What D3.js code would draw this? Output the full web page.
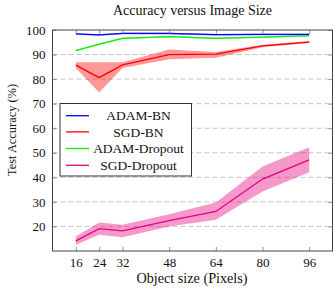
<!DOCTYPE html>
<html>
<head>
<meta charset="utf-8">
<script src="https://cdn.jsdelivr.net/npm/d3@7"></script>
<style>
  html, body { margin: 0; padding: 0; background: #fff; }
  text { font-family: "Liberation Serif", "DejaVu Serif", serif; fill: #111; }
</style>
</head>
<body>
<svg id="chart" width="333" height="292"></svg>
<script>
// ---- data ----
const sizes = [16, 24, 32, 48, 64, 80, 96];
const xTicks = [16, 24, 32, 48, 64, 80, 96];
const yTicks = [20, 30, 40, 50, 60, 70, 80, 90, 100];
const seriesNames = ["ADAM-BN", "SGD-BN", "ADAM-Dropout", "SGD-Dropout"];
const seriesColors = ["#0000ff", "#ff0000", "#00ee00", "#e6007e"];

const adamBN      = [98.4, 98.0, 98.6, 98.6, 98.1, 98.2, 98.2];
const adamBNLo    = [98.1, 97.7, 98.3, 98.2, 97.8, 97.9, 97.9];
const adamBNHi    = [98.7, 98.3, 98.9, 98.9, 98.4, 98.5, 98.5];

const sgdBN       = [85.7, 80.6, 85.8, 90.0, 90.2, 93.5, 95.1];
const sgdBNLo     = [84.5, 74.5, 84.5, 88.1, 88.7, 93.0, 94.7];
const sgdBNHi     = [86.9, 86.9, 86.9, 92.1, 91.0, 94.0, 95.5];

const adamDrop    = [91.6, 94.2, 96.6, 97.3, 96.6, 97.1, 97.7];
const adamDropLo  = [91.3, 93.9, 96.3, 97.0, 96.3, 96.8, 97.4];
const adamDropHi  = [91.9, 94.5, 96.9, 97.6, 96.9, 97.4, 98.0];

const sgdDrop     = [14.1, 19.1, 18.2, 22.4, 26.1, 39.3, 47.1];
const sgdDropLo   = [12.5, 16.6, 15.6, 20.0, 22.7, 34.2, 42.1];
const sgdDropHi   = [15.9, 21.6, 20.7, 25.0, 29.8, 44.4, 52.3];

const title = "Accuracy versus Image Size";
const xLabel = "Object size (Pixels)";
const yLabel = "Test Accuracy (%)";

// ---- drawing ----
const svg = d3.select("#chart");
const L = 52.5, R = 332.5, T = 30, B = 251;
const x = d3.scaleLinear().domain([8, 104]).range([L, R]);
const y = d3.scaleLinear().domain([10, 100]).range([B, T]);

// grid
svg.append("g").selectAll("line").data(yTicks.filter(v => v < 100)).join("line")
  .attr("x1", L).attr("x2", R)
  .attr("y1", d => y(d)).attr("y2", d => y(d))
  .attr("stroke", "#c4c4c4").attr("stroke-width", 1)
  .attr("stroke-dasharray", "5,3");

const series = [
  {mean: adamBN, lo: adamBNLo, hi: adamBNHi},
  {mean: sgdBN, lo: sgdBNLo, hi: sgdBNHi},
  {mean: adamDrop, lo: adamDropLo, hi: adamDropHi},
  {mean: sgdDrop, lo: sgdDropLo, hi: sgdDropHi}
];

const area = d3.area().x((d, i) => x(sizes[i])).y0(d => y(d[0])).y1(d => y(d[1]));
const line = d3.line().x((d, i) => x(sizes[i])).y(d => y(d));

series.forEach((s, k) => {
  const pts = s.lo.map((v, i) => [v, s.hi[i]]);
  svg.append("path").datum(pts).attr("d", area)
    .attr("fill", seriesColors[k]).attr("fill-opacity", 0.4).attr("stroke", "none");
});
series.forEach((s, k) => {
  svg.append("path").datum(s.mean).attr("d", line)
    .attr("fill", "none").attr("stroke", seriesColors[k]).attr("stroke-width", 1.3);
});

// axes (ticks inside on all sides)
const tickLen = 4;
const gx = svg.append("g").attr("transform", `translate(0,${B})`)
  .call(d3.axisBottom(x).tickValues(xTicks).tickSize(-tickLen).tickPadding(7).tickFormat(d3.format("d")));
const gxTop = svg.append("g").attr("transform", `translate(0,${T})`)
  .call(d3.axisTop(x).tickValues(xTicks).tickSize(-tickLen).tickFormat(""));
const gy = svg.append("g").attr("transform", `translate(${L},0)`)
  .call(d3.axisLeft(y).tickValues(yTicks).tickSize(-tickLen).tickPadding(7).tickFormat(d3.format("d")));
const gyR = svg.append("g").attr("transform", `translate(${R},0)`)
  .call(d3.axisRight(y).tickValues(yTicks).tickSize(-tickLen).tickFormat(""));
[gx, gxTop, gy, gyR].forEach(g => {
  g.select(".domain").remove();
  g.selectAll(".tick line").attr("stroke", "#777").attr("stroke-width", 0.8);
  g.selectAll("text").style("font-family", "Liberation Serif").style("font-size", "13px").attr("fill", "#111");
});
gx.selectAll("text").attr("dy", "0.71em");

// frame
svg.append("rect").attr("x", L).attr("y", T).attr("width", R - L).attr("height", B - T)
  .attr("fill", "none").attr("stroke", "#444").attr("stroke-width", 1);

// title and labels
svg.append("text").attr("x", (L + R) / 2).attr("y", 14.5).attr("text-anchor", "middle")
  .style("font-size", "14px").text(title);
svg.append("text").attr("x", (L + R) / 2 - 0.5).attr("y", 283).attr("text-anchor", "middle")
  .style("font-size", "14.2px").text(xLabel);
svg.append("text").attr("transform", `translate(16,130) rotate(-90)`).attr("text-anchor", "middle")
  .style("font-size", "12.4px").text(yLabel);

// legend
const lg = svg.append("g");
lg.append("rect").attr("x", 60).attr("y", 103.5).attr("width", 131.5).attr("height", 72.5)
  .attr("fill", "#fff").attr("stroke", "#333").attr("stroke-width", 1);
const rowY = [115.7, 131.9, 148.5, 165.3];
seriesNames.forEach((n, k) => {
  lg.append("line").attr("x1", 66).attr("x2", 89).attr("y1", rowY[k]).attr("y2", rowY[k])
    .attr("stroke", seriesColors[k]).attr("stroke-width", 1.3);
  lg.append("text").attr("x", 138.5).attr("y", rowY[k] + 4.6).attr("text-anchor", "middle")
    .style("font-size", "13.5px").text(n);
});
</script>
</body>
</html>
